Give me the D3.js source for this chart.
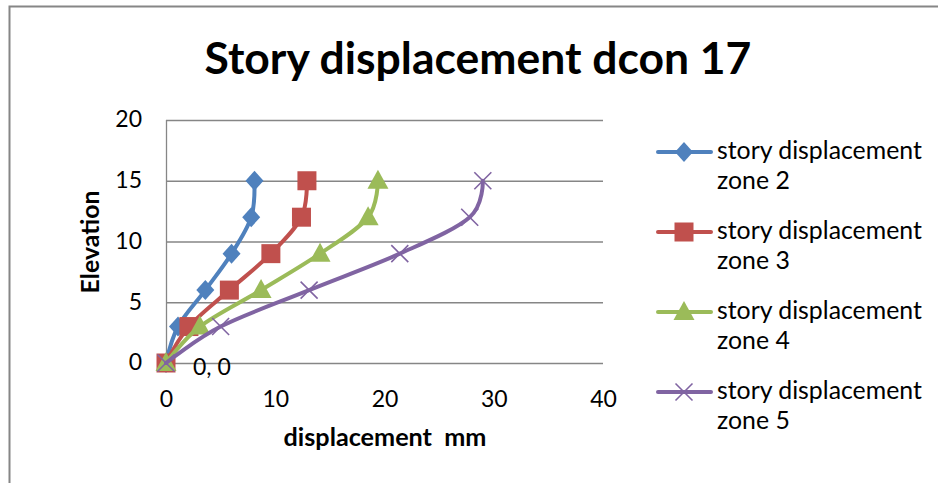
<!DOCTYPE html>
<html><head><meta charset="utf-8">
<script src="https://cdn.jsdelivr.net/npm/d3@7"></script>
<style>
html,body{margin:0;padding:0;background:#fff;}
svg{display:block;font-family:"Lato","Open Sans",sans-serif;}
</style></head>
<body>
<svg id="c" width="938" height="483"></svg>
<script>
const elevations = [0, 3, 6, 9, 12, 15];
const zone2 = [0, 1.1, 3.6, 6.0, 7.8, 8.1];
const zone3 = [0, 2.1, 5.8, 9.6, 12.4, 12.9];
const zone4 = [0, 3.1, 8.7, 14.1, 18.5, 19.4];
const zone5 = [0, 5.0, 13.1, 21.4, 27.8, 29.0];
const seriesNames = ["story displacement zone 2","story displacement zone 3","story displacement zone 4","story displacement zone 5"];
const xTicks = [0, 10, 20, 30, 40];
const yTicks = [0, 5, 10, 15, 20];
const title = "Story displacement dcon 17";
const xTitle = "displacement  mm";
const yTitle = "Elevation";
const dataLabel = "0, 0";

const colors = ["#4F81BD","#C0504D","#9BBB59","#8064A2"];
const markers = ["diamond","square","triangle","cross"];
const allSeries = [zone2, zone3, zone4, zone5];

const svg = d3.select("#c");
svg.append("path").attr("d","M9.5,483 L9.5,6.5 L938,6.5").attr("fill","none").attr("stroke","#868686").attr("stroke-width",2);

const x = d3.scaleLinear().domain([0,40]).range([166,603]);
const y = d3.scaleLinear().domain([0,20]).range([363,120]);

function fitText(sel, target){
  const w = sel.node().getComputedTextLength();
  const fs = parseFloat(sel.attr("font-size"));
  sel.attr("font-size", fs*target/w);
  return fs*target/w;
}

const tickFs = 23;

const t = svg.append("text").attr("x",478).attr("y",74).attr("text-anchor","middle")
  .attr("font-size",36).attr("font-weight","bold").attr("fill","#000").text(title);
fitText(t, 547);

svg.append("g").selectAll("line").data(yTicks).join("line")
  .attr("x1",x(0)).attr("x2",x(40)).attr("y1",d=>y(d)+0.5).attr("y2",d=>y(d)+0.5)
  .attr("stroke","#868686").attr("stroke-width",1.3);
svg.append("line").attr("x1",x(0)+0.5).attr("x2",x(0)+0.5).attr("y1",y(20)).attr("y2",y(0))
  .attr("stroke","#868686").attr("stroke-width",1.3);

const yAxis = svg.append("g").attr("transform",`translate(${x(0)},0)`)
  .call(d3.axisLeft(y).tickValues(yTicks).tickSize(0).tickPadding(24));
yAxis.select(".domain").remove();
yAxis.selectAll("text").attr("font-size",tickFs).attr("font-family","Lato, 'Open Sans', sans-serif").attr("fill","#000").attr("dy","0.3em");

const xAxis = svg.append("g").attr("transform",`translate(0,${y(0)})`)
  .call(d3.axisBottom(x).tickValues(xTicks).tickSize(0).tickPadding(28));
xAxis.select(".domain").remove();
xAxis.selectAll("text").attr("font-size",tickFs).attr("font-family","Lato, 'Open Sans', sans-serif").attr("fill","#000");

const xt = svg.append("text").attr("x",385).attr("y",446).attr("text-anchor","middle")
  .attr("font-size",20).attr("font-weight","bold").style("white-space","pre").text(xTitle);
fitText(xt, 203);
const yt = svg.append("text").attr("transform","translate(99,242) rotate(-90)").attr("text-anchor","middle")
  .attr("font-size",20).attr("font-weight","bold").text(yTitle);
fitText(yt, 103);

const line = d3.line().x(d=>x(d[0])).y(d=>y(d[1])).curve(d3.curveCardinal.tension(0));

function drawMarker(g, type, cx, cy, color){
  if(type==="diamond"){
    g.append("path").attr("d",`M${cx},${cy-10} L${cx+9},${cy} L${cx},${cy+10} L${cx-9},${cy} Z`).attr("fill",color);
  } else if(type==="square"){
    g.append("rect").attr("x",cx-9.5).attr("y",cy-9.5).attr("width",19).attr("height",19).attr("fill",color);
  } else if(type==="triangle"){
    g.append("path").attr("d",`M${cx},${cy-11} L${cx+10.5},${cy+8} L${cx-10.5},${cy+8} Z`).attr("fill",color);
  } else {
    g.append("path").attr("d",`M${cx-8.5},${cy-8.5} L${cx+8.5},${cy+8.5} M${cx-8.5},${cy+8.5} L${cx+8.5},${cy-8.5}`)
      .attr("stroke",color).attr("stroke-width",1.6).attr("fill","none");
  }
}

allSeries.forEach((s,i)=>{
  const pts = s.map((v,k)=>[v, elevations[k]]);
  const g = svg.append("g");
  g.append("path").attr("d",line(pts)).attr("fill","none").attr("stroke",colors[i])
    .attr("stroke-width",4).attr("stroke-linejoin","round").attr("stroke-linecap","round");
  pts.forEach(p=>drawMarker(g, markers[i], x(p[0]), y(p[1]), colors[i]));
});

svg.append("text").attr("x",193).attr("y",375).attr("font-size",23).attr("fill","#000").text(dataLabel);

const legY = [152, 232, 312, 392];
seriesNames.forEach((name,i)=>{
  const g = svg.append("g");
  const cy = legY[i];
  g.append("line").attr("x1",658).attr("x2",711).attr("y1",cy).attr("y2",cy)
    .attr("stroke",colors[i]).attr("stroke-width",4).attr("stroke-linecap","round");
  drawMarker(g, markers[i], 684, cy, colors[i]);
  const parts = name.split(" ");
  const l1 = parts.slice(0,2).join(" "), l2 = parts.slice(2).join(" ");
  const t1 = g.append("text").attr("x",717).attr("y",cy+7).attr("font-size",21).attr("fill","#000").text(l1);
  fitText(t1, 205);
  const fs = t1.attr("font-size");
  g.append("text").attr("x",717).attr("y",cy+37).attr("font-size",fs).attr("fill","#000").text(l2);
});
</script>
</body></html>
